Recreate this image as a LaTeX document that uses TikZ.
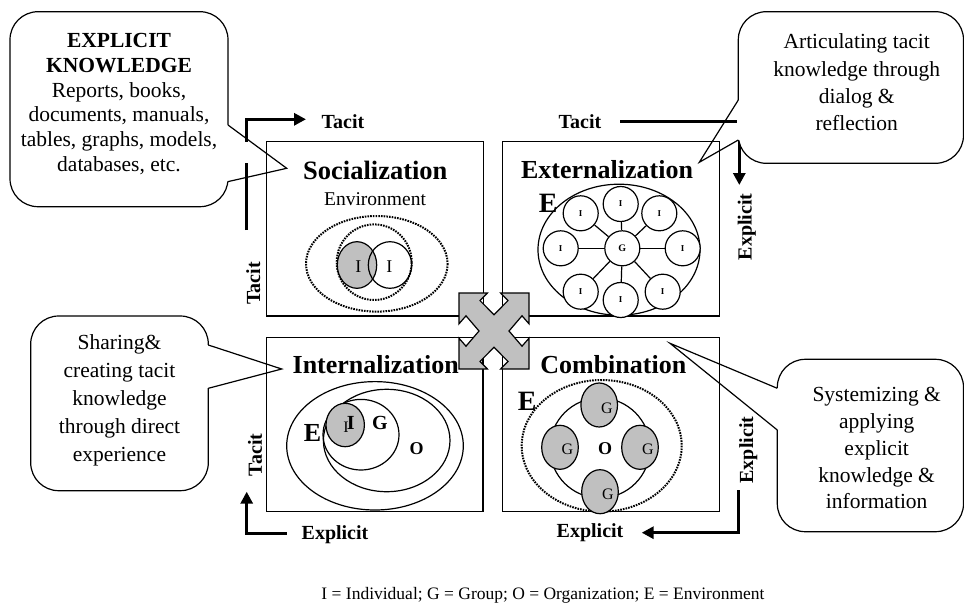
\documentclass[tikz,border=0pt]{standalone}
\usepackage{fontspec}
\setmainfont{Liberation Serif}
\usepackage{tikz}
\usetikzlibrary{arrows.meta, shapes.geometric, positioning}
\definecolor{knowgray}{RGB}{192,192,192}

\begin{document}
\begin{tikzpicture}[x=1pt, y=-1pt,
    quadbox/.style={draw, line width=1.2pt},
    modetitle/.style={font=\bfseries\fontsize{26}{28}\selectfont, inner sep=0pt},
    axislabel/.style={font=\bfseries\fontsize{20}{22}\selectfont, inner sep=0pt},
    turnarrow/.style={line width=3.5pt, -{Triangle[length=12pt, width=12pt]}},
    dotring/.style={draw, line width=2pt, dash pattern=on 1.6pt off 1.1pt},
    ring/.style={draw, line width=1.2pt},
    member/.style={circle, draw, line width=1.2pt, fill=white, minimum size=35pt, inner sep=0pt, font=\bfseries\fontsize{10}{10}\selectfont},
    grp/.style={ellipse, draw, line width=1.2pt, fill=knowgray, minimum width=36.6pt, minimum height=44pt, inner sep=0pt},
    balloon/.style={draw, line width=1.2pt, fill=white, rounded corners=28pt},
    balloontext/.style={align=center, inner sep=0pt},
    pointer/.style={line width=1.2pt},
]
    \useasboundingbox (0,0) rectangle (964,608);

    % Quadrant frames
    \draw[quadbox] (266.7,141.7) rectangle (483.3,316);
    \draw[quadbox] (502.7,141.7) rectangle (719.3,316);
    \draw[quadbox] (266.7,337.7) rectangle (483,511.7);
    \draw[quadbox] (502.7,337.3) rectangle (719.3,511.7);

    % Socialization
    \draw[dotring] (376.8,263.8) ellipse [x radius=70.8, y radius=47.8];
    \draw[dotring] (374.2,262.2) ellipse [x radius=37.5, y radius=37.8];
    \filldraw[ring, fill=knowgray] (357,265) ellipse [x radius=19.7, y radius=23.3];
    \draw[ring] (390,265) ellipse [x radius=21.7, y radius=23.3];
    \node[modetitle, font=\bfseries\fontsize{26.5}{28}\selectfont] (socTitle) at (375.3,170) {Socialization};
    \node[font=\fontsize{19.5}{21}\selectfont, inner sep=0pt] (socEnv) at (375,199.3) {Environment};
    \node[font=\fontsize{18}{20}\selectfont, inner sep=0pt] (socI1) at (358.3,266.7) {I};
    \node[font=\fontsize{18}{20}\selectfont, inner sep=0pt] (socI2) at (389.3,266.7) {I};

    % Externalization
    \draw[ring] (619,249.7) ellipse [x radius=81, y radius=65.5];
    \node[member] (extG) at (622.3,248.3) {G};
    \foreach \px/\py [count=\k] in {620.7/204, 659.3/213.3, 682.7/248.3, 662.7/291.7,
                                    620.7/300, 580.7/291.7, 560.7/248.3, 580.7/213.3} {
        \node[member, font=\bfseries\fontsize{9}{9}\selectfont] (extI\k) at (\px,\py) {I};
        \draw[ring] (extG) -- (extI\k);
    }
    \node[modetitle] (extTitle) at (607,170) {Externalization};
    \node[modetitle, font=\bfseries\fontsize{28}{30}\selectfont] (extE) at (548.3,203.3) {E};

    % Internalization
    \draw[ring] (375,445.8) ellipse [x radius=88.3, y radius=64.2];
    \draw[ring] (386.7,440.5) ellipse [x radius=63.3, y radius=51.2];
    \draw[ring] (361,434.7) ellipse [x radius=38, y radius=35.3];
    \filldraw[ring, fill=knowgray] (345.2,425) ellipse [x radius=19.2, y radius=21.7];
    \node[modetitle] (intTitle) at (375.7,365) {Internalization};
    \node[modetitle] (intE) at (312.5,433) {E};
    \node[font=\fontsize{16}{16}\selectfont, inner sep=0pt] (intIb) at (346,427) {I};
    \node[font=\bfseries\fontsize{20}{20}\selectfont, inner sep=0pt] (intI) at (350.7,423.3) {I};
    \node[font=\bfseries\fontsize{20}{20}\selectfont, inner sep=0pt] (intG) at (380,423.3) {G};
    \node[font=\bfseries\fontsize{18}{18}\selectfont, inner sep=0pt] (intO) at (416.7,449) {O};

    % Combination
    \draw[dotring] (601.7,445.8) ellipse [x radius=80, y radius=65.8];
    \draw[ring] (600,448) ellipse [x radius=50, y radius=50];
    \node[grp] (cmbG1) at (599.2,405) {};
    \node[grp] (cmbG2) at (560,447.3) {};
    \node[grp] (cmbG3) at (640,447.3) {};
    \node[grp] (cmbG4) at (600,491.7) {};
    \foreach \px/\py [count=\k] in {607/408.3, 567.3/449.3, 648/449.3, 608/494} {
        \node[font=\fontsize{16}{16}\selectfont, inner sep=0pt] (cmbL\k) at (\px,\py) {G};
    }
    \node[font=\bfseries\fontsize{18}{18}\selectfont, inner sep=0pt] (cmbO) at (605,448.3) {O};
    \node[modetitle] (cmbTitle) at (613.3,365) {Combination};
    \node[modetitle, font=\bfseries\fontsize{28}{30}\selectfont] (cmbE) at (527.3,401.7) {E};

    % Centre cross
    \begin{scope}[shift={(494,331)}]
        \filldraw[fill=knowgray, line width=1.2pt]
            (-35,-38) -- (-6.6,-38) -- (-14,-30.4) -- (0,-16.3) -- (14,-30.4) -- (6.6,-38)
            -- (35,-38) -- (35,-7.2) -- (28,-15.2) -- (15,0) -- (28,15.2) -- (35,7.2)
            -- (35,38) -- (6.6,38) -- (14,30.4) -- (0,16.3) -- (-14,30.4) -- (-6.6,38)
            -- (-35,38) -- (-35,7.2) -- (-28,15.2) -- (-15,0) -- (-28,-15.2) -- (-35,-7.2) -- cycle;
    \end{scope}

    % Turning arrows
    \coordinate (tlStart) at (246.7,141.7);
    \coordinate (tlEnd) at (306,119.3);
    \coordinate (tlLow) at (246.7,230);
    \coordinate (tlHigh) at (246.7,162.7);
    \coordinate (trStart) at (620,121.7);
    \coordinate (trEnd) at (739.3,185);
    \coordinate (brStart) at (738.3,490);
    \coordinate (brEnd) at (641.7,532.7);
    \coordinate (blStart) at (286.7,533.3);
    \coordinate (blEnd) at (246.7,491.7);
    \draw[turnarrow] (tlStart) |- (tlEnd);
    \draw[line width=3.5pt] (tlLow) -- (tlHigh);
    \draw[turnarrow] (trStart) -| (trEnd);
    \draw[turnarrow] (brStart) |- (brEnd);
    \draw[turnarrow] (blStart) -| (blEnd);

    % Axis labels
    \node[axislabel] (tacitTop) at (343,121.7) {Tacit};
    \node[axislabel] (tacitTopR) at (580,121.7) {Tacit};
    \node[axislabel, rotate=90] (tacitSoc) at (253.3,283.3) {Tacit};
    \node[axislabel, rotate=90] (explExt) at (746.7,226.7) {Explicit};
    \node[axislabel, rotate=90] (tacitInt) at (255,455) {Tacit};
    \node[axislabel] (explInt) at (335,535) {Explicit};
    \node[axislabel] (explCmb) at (590,532.7) {Explicit};
    \node[axislabel, rotate=90] (explCmbR) at (748.3,450) {Explicit};

    % Callouts
    \draw[balloon] (10,11.7) rectangle (228,206.7);
    \node[balloontext, font=\fontsize{21.5}{24.7}\selectfont] (cbKnow) at (119,104)
        {\textbf{EXPLICIT}\\ \textbf{KNOWLEDGE}\\ Reports, books,\\ documents, manuals,\\ tables, graphs, models,\\ databases, etc.};
    \coordinate (tipSoc) at (286.7,168.3);
    \draw[white, line width=3pt] (228,125) -- (227.6,181.7);
    \draw[pointer] (228,125) -- (tipSoc) -- (227.6,181.7);

    \draw[balloon] (738.3,11.7) rectangle (963.5,163.3);
    \node[balloontext, font=\fontsize{21.5}{27.3}\selectfont] (cbArtic) at (856.7,82.5)
        {Articulating tacit\\ knowledge through\\ dialog \&\\ reflection};
    \coordinate (tipExt) at (699.3,162.3);
    \draw[white, line width=3pt] (738.3,100) -- (738.3,140);
    \draw[pointer] (738.3,100) -- (tipExt) -- (738.3,140);

    \draw[balloon] (30.7,316) rectangle (208.3,490.7);
    \node[balloontext, font=\fontsize{21.5}{28}\selectfont] (cbShare) at (119.5,400)
        {Sharing\&\\ creating tacit\\ knowledge\\ through direct\\ experience};
    \coordinate (tipInt) at (281.7,369);
    \draw[white, line width=3pt] (208.3,345) -- (208.3,388.3);
    \draw[pointer] (208.3,345) -- (tipInt) -- (208.3,388.3);

    \draw[balloon] (777.3,359.3) rectangle (963.5,531.7);
    \node[balloontext, font=\fontsize{21.5}{26.7}\selectfont] (cbSystem) at (876.7,448.3)
        {Systemizing \&\\ applying\\ explicit\\ knowledge \&\\ information};
    \coordinate (tipCmb) at (670,343.3);
    \draw[white, line width=3pt] (777.3,388.3) -- (777.3,430);
    \draw[pointer] (777.3,388.3) -- (tipCmb) -- (777.3,430);

    % Legend
    \node[anchor=base, font=\fontsize{17.5}{19}\selectfont, inner sep=0pt] (legend) at (543,599.5)
        {I = Individual; G = Group; O = Organization; E = Environment};
\end{tikzpicture}
\end{document}
